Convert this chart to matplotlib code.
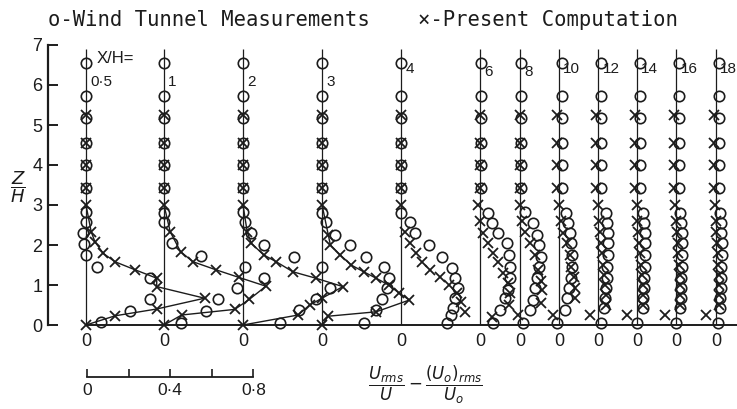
import matplotlib
matplotlib.use('Agg')
import matplotlib.pyplot as plt

# downstream stations X/H and where each profile's zero line sits (velocity units)
stations = ['0·5', '1', '2', '3', '4', '6', '8', '10', '12', '14', '16', '18']
offsets = [0.0, 0.375, 0.755, 1.135, 1.514, 1.894, 2.087, 2.274, 2.462, 2.649, 2.837, 3.029]

# points above the disturbed layer (same heights at every station)
upper_meas_z = [6.55, 5.72, 5.18, 4.55, 4.0, 3.42]
upper_comp_z = [5.25, 4.55, 4.0, 3.42]
upper_meas_v = [0, 0, 0, 0, 0, 0.005, 0.005, 0.015, 0.015, 0.015, 0.015, 0.015]
upper_comp_v = [0, 0, 0, 0, 0, 0, 0, -0.01, -0.01, -0.01, -0.01, -0.01]

# wind tunnel measurements (circles), lower part of each profile
meas_z = [
    [2.83, 2.58, 2.29, 2.03, 1.76, 1.46, 1.17, 0.66, 0.36, 0.08],
    [2.8, 2.58, 2.04, 1.72, 1.44, 1.17, 0.92, 0.65, 0.36, 0.06],
    [2.83, 2.58, 2.29, 2.0, 1.71, 1.44, 0.92, 0.64, 0.375, 0.04],
    [2.79, 2.58, 2.25, 2.0, 1.71, 1.44, 1.17, 0.92, 0.65, 0.375, 0.04],
    [2.79, 2.58, 2.29, 2.0, 1.71, 1.42, 1.17, 0.92, 0.67, 0.42, 0.25, 0.04],
    [2.79, 2.54, 2.29, 2.04, 1.75, 1.46, 1.17, 0.875, 0.67, 0.375, 0.04],
    [2.83, 2.54, 2.25, 2.0, 1.71, 1.46, 1.17, 0.92, 0.625, 0.375, 0.04],
    [2.79, 2.54, 2.29, 2.04, 1.75, 1.46, 1.17, 0.92, 0.67, 0.375, 0.04],
    [2.79, 2.54, 2.29, 2.04, 1.75, 1.46, 1.17, 0.92, 0.67, 0.42, 0.04],
    [2.79, 2.54, 2.29, 2.04, 1.75, 1.46, 1.17, 0.92, 0.67, 0.42, 0.04],
    [2.79, 2.54, 2.29, 2.04, 1.75, 1.46, 1.17, 0.92, 0.67, 0.42, 0.04],
    [2.79, 2.54, 2.29, 2.04, 1.75, 1.46, 1.17, 0.92, 0.67, 0.42, 0.04],
]
meas_v = [
    [0.0, 0.0, -0.016, -0.01, 0.0, 0.054, 0.31, 0.31, 0.21, 0.07],
    [0.0, 0.0, 0.04, 0.18, 0.39, 0.48, 0.35, 0.26, 0.2, 0.08],
    [0.0, 0.01, 0.04, 0.1, 0.245, 0.38, 0.42, 0.35, 0.27, 0.18],
    [0.0, 0.02, 0.06, 0.135, 0.21, 0.3, 0.32, 0.31, 0.29, 0.26, 0.2],
    [0.0, 0.043, 0.067, 0.136, 0.2, 0.245, 0.26, 0.275, 0.26, 0.25, 0.24, 0.22],
    [0.04, 0.056, 0.088, 0.128, 0.14, 0.144, 0.144, 0.136, 0.12, 0.096, 0.064],
    [0.024, 0.06, 0.08, 0.09, 0.1, 0.09, 0.08, 0.072, 0.064, 0.048, 0.016],
    [0.035, 0.045, 0.053, 0.06, 0.065, 0.065, 0.06, 0.05, 0.04, 0.03, -0.01],
    [0.04, 0.045, 0.05, 0.05, 0.05, 0.045, 0.045, 0.04, 0.035, 0.03, 0.015],
    [0.03, 0.035, 0.04, 0.04, 0.04, 0.04, 0.035, 0.035, 0.03, 0.03, 0.0],
    [0.02, 0.025, 0.03, 0.03, 0.03, 0.03, 0.025, 0.025, 0.025, 0.02, 0.0],
    [0.02, 0.025, 0.025, 0.03, 0.03, 0.025, 0.025, 0.025, 0.02, 0.02, 0.01],
]

# present computation (crosses), lower part of each profile
comp_z = [
    [0.0, 0.23, 0.4, 0.67, 0.96, 1.17, 1.38, 1.58, 1.79, 2.08, 2.33, 3.0],
    [0.0, 0.25, 0.39, 0.64, 0.97, 1.19, 1.38, 1.58, 1.83, 2.33, 3.0],
    [0.0, 0.25, 0.5, 0.67, 0.96, 1.17, 1.33, 1.58, 1.75, 2.04, 2.33, 3.0],
    [0.0, 0.22, 0.33, 0.625, 0.8, 1.0, 1.17, 1.33, 1.5, 1.75, 2.0, 2.25, 3.0],
    [0.33, 0.58, 0.79, 1.0, 1.21, 1.375, 1.58, 1.79, 2.04, 2.33, 3.0],
    [0.21, 0.5, 0.79, 1.04, 1.29, 1.58, 1.79, 2.04, 2.29, 2.6, 3.0],
    [0.25, 0.55, 0.875, 1.1, 1.375, 1.75, 2.04, 2.33, 2.6, 3.0],
    [0.25, 0.67, 0.92, 1.21, 1.46, 1.75, 2.04, 2.29, 2.6, 3.0],
    [0.25, 0.5, 0.75, 1.0, 1.25, 1.5, 1.79, 2.04, 2.33, 2.6, 3.0],
    [0.25, 0.5, 0.75, 1.0, 1.25, 1.5, 1.79, 2.04, 2.33, 2.6, 3.0],
    [0.25, 0.5, 0.75, 1.0, 1.25, 1.5, 1.79, 2.04, 2.33, 2.6, 3.0],
    [0.25, 0.5, 0.75, 1.0, 1.25, 1.5, 1.79, 2.04, 2.33, 2.6, 3.0],
]
comp_v = [
    [0.0, 0.14, 0.34, 0.57, 0.34, 0.34, 0.236, 0.14, 0.083, 0.043, 0.025, 0.0],
    [0.0, 0.085, 0.34, 0.41, 0.49, 0.36, 0.25, 0.14, 0.08, 0.03, 0.0],
    [0.0, 0.265, 0.32, 0.38, 0.48, 0.35, 0.24, 0.16, 0.1, 0.04, 0.02, 0.0],
    [0.0, 0.03, 0.26, 0.42, 0.37, 0.32, 0.26, 0.2, 0.14, 0.087, 0.04, 0.03, 0.0],
    [0.31, 0.29, 0.27, 0.23, 0.19, 0.14, 0.1, 0.075, 0.043, 0.02, 0.0],
    [0.056, 0.14, 0.144, 0.136, 0.11, 0.088, 0.064, 0.04, 0.016, 0.0, -0.01],
    [-0.008, 0.1, 0.104, 0.1, 0.088, 0.07, 0.048, 0.024, 0.01, 0.0],
    [-0.028, 0.075, 0.075, 0.07, 0.06, 0.055, 0.04, 0.02, 0.01, 0.0],
    [-0.04, 0.04, 0.04, 0.035, 0.03, 0.025, 0.02, 0.015, 0.01, 0.005, 0.0],
    [-0.05, 0.03, 0.03, 0.03, 0.025, 0.02, 0.015, 0.01, 0.005, 0.0, 0.0],
    [-0.055, 0.02, 0.02, 0.02, 0.02, 0.015, 0.01, 0.01, 0.005, 0.0, -0.005],
    [-0.05, 0.015, 0.015, 0.015, 0.015, 0.01, 0.01, 0.005, 0.0, 0.0, -0.005],
]
joined = [True, True, True, True] + [False] * 8

ink = '#1c1c1c'
plt.rcParams['font.family'] = ['Liberation Sans', 'DejaVu Sans']
plt.rcParams['mathtext.fontset'] = 'dejavusans'

fig = plt.figure(figsize=(7.37, 4.09), dpi=100)
ax = fig.add_axes([48 / 737, 84 / 409, 689 / 737, 280 / 409])
ax.set_xlim(-0.1827, 3.13)
ax.set_ylim(0, 7)

ax.vlines(offsets, 0, 6.9, color=ink, lw=0.9)

for i, x0 in enumerate(offsets):
    mx = [x0 + upper_meas_v[i]] * len(upper_meas_z) + [x0 + v for v in meas_v[i]]
    mz = upper_meas_z + meas_z[i]
    cx = [x0 + upper_comp_v[i]] * len(upper_comp_z) + [x0 + v for v in comp_v[i]]
    cz = upper_comp_z + comp_z[i]
    if joined[i]:
        ax.plot([x0 + v for v in comp_v[i]], comp_z[i], color=ink, lw=1.0, clip_on=False)
    ax.plot(cx, cz, ls='none', marker='x', ms=7.5, mew=1.3, color=ink, clip_on=False)
    ax.plot(mx, mz, ls='none', marker='o', ms=7.5, mew=1.2, mfc='none', mec=ink, clip_on=False)

# station labels
ax.text(0.05, 6.67, 'X/H=', fontsize=12, color=ink, va='center', ha='left')
label_z = [6.08, 6.08, 6.08, 6.08, 6.4, 6.33, 6.33, 6.4, 6.4, 6.4, 6.4, 6.4]
for name, x0, lz in zip(stations, offsets, label_z):
    ax.text(x0 + 0.021, lz, name, fontsize=11, color=ink, va='center', ha='left')

for side in ['top', 'right']:
    ax.spines[side].set_visible(False)
ax.spines['left'].set_linewidth(1.6)
ax.spines['left'].set_color(ink)
ax.spines['bottom'].set_bounds(0, 3.13)
ax.spines['bottom'].set_linewidth(1.4)
ax.spines['bottom'].set_color(ink)

ax.set_yticks(range(8))
ax.tick_params(axis='y', direction='in', length=7, width=1.4, color=ink,
               labelsize=13, labelcolor=ink, pad=4)
ax.set_xticks(offsets)
ax.set_xticklabels(['0'] * len(offsets))
ax.tick_params(axis='x', length=0, labelsize=13, labelcolor=ink, pad=6)

fig.text(18 / 737, 1 - 187 / 409, r'$\dfrac{Z}{H}$', fontsize=13, color=ink,
         ha='center', va='center')

# header line, spaced technical lettering
fig.text(48 / 737, 1 - 20 / 409, 'o-Wind Tunnel Measurements', fontsize=14.8,
         family='DejaVu Sans Mono', color=ink, va='center', ha='left')
fig.text(418 / 737, 1 - 20 / 409, '×-Present Computation', fontsize=14.8,
         family='DejaVu Sans Mono', color=ink, va='center', ha='left')

# velocity scale bar
sb = fig.add_axes([87 / 737, 1 - 377 / 409, 166.4 / 737, 0.02])
sb.set_xlim(0, 0.8)
sb.set_ylim(0, 1)
for side in ['top', 'right', 'left']:
    sb.spines[side].set_visible(False)
sb.spines['bottom'].set_linewidth(1.3)
sb.spines['bottom'].set_color(ink)
sb.set_yticks([])
sb.set_xticks([0, 0.2, 0.4, 0.6, 0.8])
sb.set_xticklabels(['0', '', '0·4', '', '0·8'])
sb.tick_params(axis='x', direction='in', length=6, width=1.2, color=ink,
               labelsize=12.5, labelcolor=ink, pad=4)
sb.patch.set_alpha(0)

fig.text(425 / 737, 1 - 385 / 409,
         r'$\dfrac{U_{rms}}{U}-\dfrac{(U_o)_{rms}}{U_o}$',
         fontsize=12, color=ink, ha='center', va='center')

fig.savefig('out.png', dpi=100, facecolor='white')
